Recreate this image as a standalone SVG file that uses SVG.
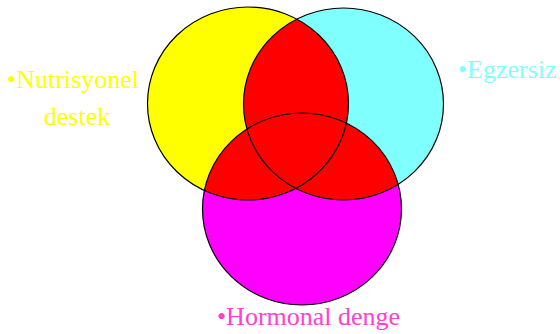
<svg xmlns="http://www.w3.org/2000/svg" width="560" height="334" viewBox="0 0 560 334">
<style>
.lbl{font-family:"Liberation Serif","Times New Roman",serif;font-size:26px}
.edge{fill:none;stroke:#000;stroke-width:1.2}
</style>
<defs>
<clipPath id="cy"><ellipse cx="248" cy="103.5" rx="100.5" ry="96.5"/></clipPath>
<clipPath id="cc"><ellipse cx="343.5" cy="104" rx="100" ry="96"/></clipPath>
</defs>
<rect width="560" height="334" fill="#fff"/>
<g id="yellow">
<ellipse cx="248" cy="103.5" rx="100.5" ry="96.5" fill="#ffff00"/>
</g>
<g id="cyan">
<ellipse cx="343.5" cy="104" rx="100" ry="96" fill="#80ffff"/>
</g>
<g id="magenta">
<ellipse cx="302" cy="209" rx="99.5" ry="96" fill="#ff00ff"/>
</g>
<g id="overlaps">
<ellipse cx="343.5" cy="104" rx="100" ry="96" fill="#ff0000" clip-path="url(#cy)"/>
<ellipse cx="302" cy="209" rx="99.5" ry="96" fill="#ff0000" clip-path="url(#cy)"/>
<ellipse cx="302" cy="209" rx="99.5" ry="96" fill="#ff0000" clip-path="url(#cc)"/>
</g>
<g id="outlines">
<ellipse class="edge" cx="248" cy="103.5" rx="100.5" ry="96.5"/>
<ellipse class="edge" cx="343.5" cy="104" rx="100" ry="96"/>
<ellipse class="edge" cx="302" cy="209" rx="99.5" ry="96"/>
</g>
<g id="labels">
<text class="lbl" x="73" y="88" text-anchor="middle" fill="#ffff00">•Nutrisyonel</text>
<text class="lbl" x="77" y="125" text-anchor="middle" fill="#ffff00">destek</text>
<text class="lbl" x="458" y="78" fill="#80ffff">•Egzersiz</text>
<text class="lbl" x="217" y="325" fill="#ff40d0">•Hormonal denge</text>
</g>
</svg>
